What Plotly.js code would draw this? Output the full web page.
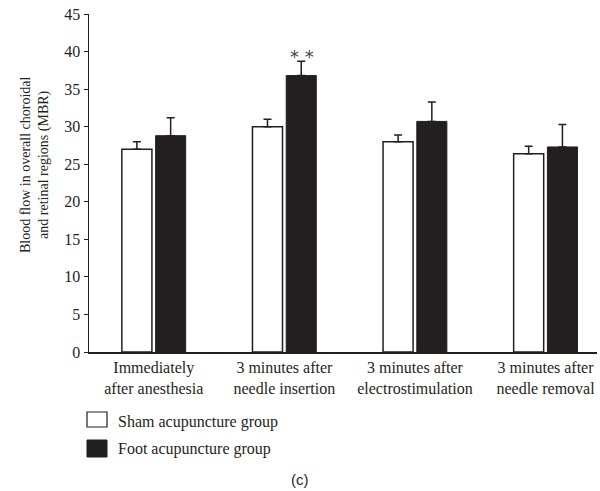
<!DOCTYPE html>
<html>
<head>
<meta charset="utf-8">
<script src="https://cdn.plot.ly/plotly-3.0.1.min.js"></script>
<style>html,body{margin:0;padding:0;background:#fff;}#chart{width:600px;height:491px;}</style>
</head>
<body>
<div id="chart"></div>
<script>
var categories = ["Immediately<br>after anesthesia", "3 minutes after<br>needle insertion", "3 minutes after<br>electrostimulation", "3 minutes after<br>needle removal"];
var shamValues = [27.0, 30.0, 28.0, 26.4];
var shamErrors = [1.0, 1.0, 0.9, 1.0];
var footValues = [28.8, 36.8, 30.7, 27.3];
var footErrors = [2.4, 1.9, 2.6, 3.0];
var yTicks = [0, 5, 10, 15, 20, 25, 30, 35, 40, 45];
var seriesNames = ["Sham acupuncture group", "Foot acupuncture group"];

var ink = "#231f20";
var font = "Liberation Serif, Times New Roman, serif";

var traces = [
  {type: "bar", name: seriesNames[0], x: categories, y: shamValues,
   marker: {color: "#ffffff", line: {color: ink, width: 1.5}},
   error_y: {type: "data", symmetric: false, array: shamErrors, arrayminus: shamErrors.map(function(){return 0;}), color: ink, thickness: 1.5, width: 4},
   showlegend: false, hoverinfo: "skip"},
  {type: "bar", name: seriesNames[1], x: categories, y: footValues,
   marker: {color: ink, line: {color: ink, width: 1}},
   error_y: {type: "data", symmetric: false, array: footErrors, arrayminus: footErrors.map(function(){return 0;}), color: ink, thickness: 1.5, width: 4},
   showlegend: false, hoverinfo: "skip"}
];

var layout = {
  width: 600, height: 491,
  margin: {l: 89, r: 3, t: 14, b: 139},
  paper_bgcolor: "#fff", plot_bgcolor: "#fff",
  font: {family: font, color: ink, size: 16},
  barmode: "group", bargap: 0.483, bargroupgap: 0.11,
  showlegend: false,
  xaxis: {
    type: "category", range: [-0.496, 3.394],
    showline: true, linecolor: ink, linewidth: 1.5,
    ticks: "", showgrid: false, zeroline: false,
    tickfont: {family: font, size: 16, color: ink}, fixedrange: true
  },
  yaxis: {
    range: [0, 45], tickvals: yTicks,
    showline: true, linecolor: ink, linewidth: 1.5,
    ticks: "outside", ticklen: 4, tickcolor: ink, tickwidth: 1,
    showgrid: false, zeroline: false,
    tickfont: {family: font, size: 16, color: ink}, fixedrange: true
  },
  annotations: [
    {xref: "x", yref: "y", x: categories[1], y: footValues[1] + footErrors[1], xshift: 18, yshift: -8,
     text: "* *", showarrow: false, yanchor: "bottom", font: {family: "DejaVu Sans, sans-serif", size: 18, color: "#444"}},
    {xref: "paper", yref: "paper", x: (35-89)/508, y: 0.553, textangle: -90,
     text: "Blood flow in overall choroidal<br>and retinal regions (MBR)", showarrow: false,
     font: {family: font, size: 14, color: ink}, xanchor: "center", yanchor: "middle"},
    {xref: "paper", yref: "paper", x: 27/508, y: -70/338, xanchor: "left", yanchor: "middle",
     text: seriesNames[0], showarrow: false, font: {family: font, size: 16, color: ink}},
    {xref: "paper", yref: "paper", x: 27/508, y: -97/338, xanchor: "left", yanchor: "middle",
     text: seriesNames[1], showarrow: false, font: {family: font, size: 16, color: ink}},
    {xref: "paper", yref: "paper", x: (300-89)/508, y: -127/338, xanchor: "center", yanchor: "middle",
     text: "(c)", showarrow: false, font: {family: "Liberation Sans, sans-serif", size: 15, color: ink}}
  ],
  shapes: [
    {type: "rect", xref: "paper", yref: "paper", x0: -2/508, x1: 18/508, y0: -60/338, y1: -75/338,
     line: {color: ink, width: 1.2}, fillcolor: "#fff"},
    {type: "rect", xref: "paper", yref: "paper", x0: -2/508, x1: 18/508, y0: -88/338, y1: -105/338,
     line: {color: ink, width: 1}, fillcolor: ink}
  ]
};

Plotly.newPlot("chart", traces, layout, {displayModeBar: false, staticPlot: true});
</script>
</body>
</html>
